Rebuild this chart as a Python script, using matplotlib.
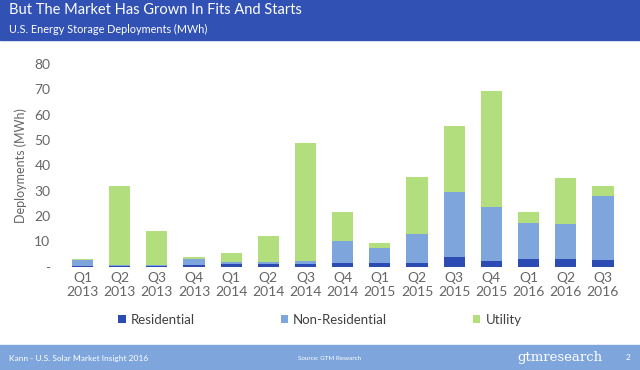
import numpy as np
import matplotlib
matplotlib.use('Agg')
from matplotlib import pyplot as plt
from matplotlib.patches import Rectangle

plt.rcParams['font.family'] = ['Lato', 'DejaVu Sans']

# data (MWh)
quarters = ['Q1\n2013', 'Q2\n2013', 'Q3\n2013', 'Q4\n2013', 'Q1\n2014', 'Q2\n2014', 'Q3\n2014',
            'Q4\n2014', 'Q1\n2015', 'Q2\n2015', 'Q3\n2015', 'Q4\n2015', 'Q1\n2016', 'Q2\n2016', 'Q3\n2016']
residential = [0.3, 0.2, 0.2, 0.6, 1.0, 0.9, 1.0, 1.5, 1.4, 1.4, 3.9, 2.2, 2.9, 2.9, 2.6]
non_residential = [2.5, 0.5, 0.5, 2.3, 1.0, 0.9, 1.4, 8.6, 6.0, 11.6, 25.6, 21.4, 14.5, 14.0, 25.5]
utility = [0.1, 31.2, 13.5, 1.1, 3.4, 10.5, 46.5, 11.4, 1.8, 22.5, 26.2, 45.7, 4.2, 18.3, 3.8]
yticks = [0, 10, 20, 30, 40, 50, 60, 70, 80]
ytick_labels = ['-', '10', '20', '30', '40', '50', '60', '70', '80']

c_res = '#2c4bb3'
c_non = '#7ea6dc'
c_util = '#b2de7e'
header = '#3151b5'
footer = '#7ea6dc'
grey = '#666666'

fig = plt.figure(figsize=(6.4, 3.7), dpi=100)

# header band and footer band
fig.patches.append(Rectangle((0, 1 - 40/370), 1, 40/370, transform=fig.transFigure, color=header, zorder=0))
fig.patches.append(Rectangle((0, 0), 1, 25/370, transform=fig.transFigure, color=footer, zorder=0))
fig.text(0.014, 1 - 10/370, 'But The Market Has Grown In Fits And Starts', color='white',
         fontsize=10.5, va='center', ha='left')
fig.text(0.014, 1 - 29/370, 'U.S. Energy Storage Deployments (MWh)', color='white',
         fontsize=7.8, va='center', ha='left')
fig.text(0.014, 12/370, 'Kann - U.S. Solar Market Insight 2016', color='white', fontsize=6, va='center')
fig.text(0.515, 12/370, 'Source: GTM Research', color='white', fontsize=4.5, va='center', ha='center')
fig.text(0.942, 12/370, 'gtmresearch', color='white', fontsize=9.5, va='center', ha='right',
         family='DejaVu Serif')
fig.text(0.982, 12/370, '2', color='white', fontsize=6, va='center', ha='center')

ax = fig.add_axes([0.094, 0.279, 0.883, 0.548])
x = np.arange(len(quarters))
w = 0.57
res = np.array(residential)
non = np.array(non_residential)
util = np.array(utility)
ax.bar(x, res, w, color=c_res, label='Residential')
ax.bar(x, non, w, bottom=res, color=c_non, label='Non-Residential')
ax.bar(x, util, w, bottom=res + non, color=c_util, label='Utility')

ax.set_xlim(-0.6, len(quarters) - 0.4)
ax.set_ylim(0, 80)
ax.set_yticks(yticks)
ax.set_yticklabels(ytick_labels)
ax.set_xticks(x)
ax.set_xticklabels(quarters, linespacing=1.25)
ax.tick_params(length=0, colors=grey, labelsize=10)
ax.tick_params(axis='y', pad=7)
for s in ax.spines.values():
    s.set_visible(False)
ax.set_ylabel('Deployments (MWh)', color=grey, fontsize=9, labelpad=5)

fig.legend(loc='center', bbox_to_anchor=(0.5, 1 - 320/370), ncol=3, frameon=False,
           fontsize=9.5, handlelength=0.55, handleheight=0.55, handletextpad=0.4,
           columnspacing=6.5, labelcolor='#404040')

fig.savefig('out.png', dpi=100)
